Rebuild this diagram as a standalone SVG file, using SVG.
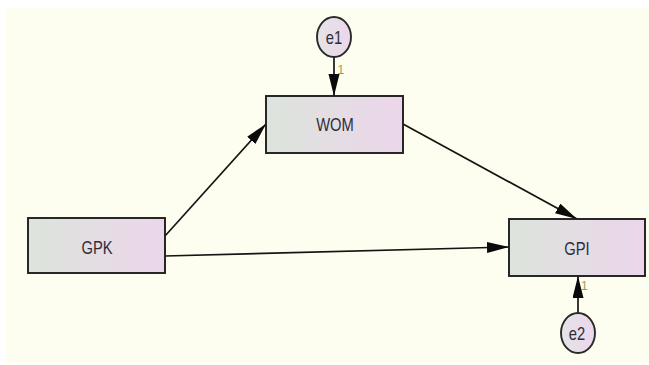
<svg xmlns="http://www.w3.org/2000/svg" width="649" height="365" viewBox="0 0 649 365">
  <style>
    .box { fill: url(#boxFill); stroke: #1e1e1e; stroke-width: 1.9; }
    .err { fill: url(#errFill); stroke: #2a2a2a; stroke-width: 1.9; }
    .lbl { font-family: "Liberation Sans", Arial, sans-serif; font-size: 18px; fill: #2e2e3a; text-anchor: middle; }
    .one { font-family: "Liberation Sans", Arial, sans-serif; font-size: 12px; fill: #a09a48; }
    .path { stroke: #141414; stroke-width: 1.7; fill: none; marker-end: url(#head); }
  </style>
  <defs>
    <linearGradient id="boxFill" x1="0" y1="0" x2="1" y2="0">
      <stop offset="0" stop-color="#dce4dc"/>
      <stop offset="1" stop-color="#ecd6ea"/>
    </linearGradient>
    <linearGradient id="errFill" x1="0" y1="0" x2="1" y2="0">
      <stop offset="0" stop-color="#e4e4e6"/>
      <stop offset="1" stop-color="#ecd6ec"/>
    </linearGradient>
    <marker id="head" markerUnits="userSpaceOnUse" markerWidth="23" markerHeight="12" refX="22" refY="5.5" orient="auto">
      <path d="M0,0 L22,5.5 L0,11 z" fill="#0a0a0a"/>
    </marker>
  </defs>

  <!-- canvas -->
  <rect x="6" y="8" width="643" height="355" fill="#fefef0"/>

  <!-- paths -->
  <g id="connectors">
    <line class="path" x1="334" y1="57" x2="334" y2="96"/>
    <line class="path" x1="165" y1="236" x2="266" y2="124"/>
    <line class="path" x1="403" y1="124" x2="577" y2="219"/>
    <line class="path" x1="165" y1="256" x2="509" y2="247"/>
    <line class="path" x1="578" y1="313" x2="578" y2="276"/>
    <text class="one" x="337.5" y="74">1</text>
    <text class="one" x="581" y="290">1</text>
  </g>

  <g id="e1">
    <ellipse class="err" cx="334" cy="37" rx="17" ry="20"/>
    <text class="lbl" transform="translate(334,43.5) scale(0.82,1)">e1</text>
  </g>

  <g id="WOM">
    <rect class="box" x="266" y="96" width="137" height="57"/>
    <text class="lbl" transform="translate(335,131) scale(0.82,1)">WOM</text>
  </g>

  <g id="GPK">
    <rect class="box" x="28" y="218" width="137" height="55"/>
    <text class="lbl" transform="translate(97,253.5) scale(0.82,1)">GPK</text>
  </g>

  <g id="GPI">
    <rect class="box" x="509" y="219" width="136" height="57"/>
    <text class="lbl" transform="translate(577,255) scale(0.82,1)">GPI</text>
  </g>

  <g id="e2">
    <ellipse class="err" cx="578" cy="333" rx="17" ry="20"/>
    <text class="lbl" transform="translate(577,340) scale(0.82,1)">e2</text>
  </g>
</svg>
